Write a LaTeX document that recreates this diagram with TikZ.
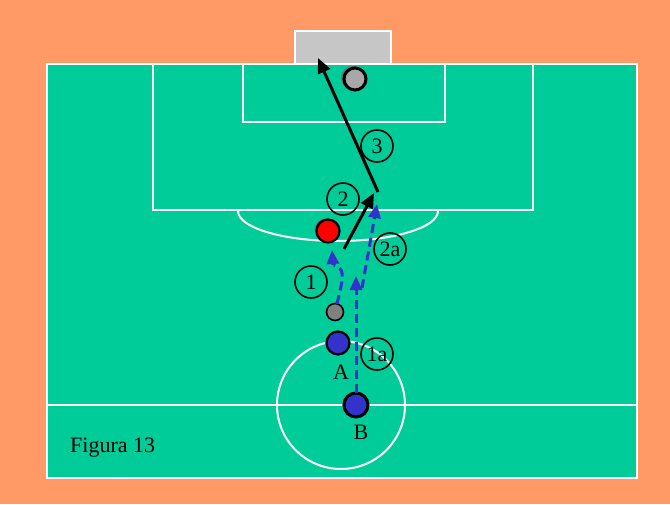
\documentclass[tikz,border=0pt]{standalone}
\usepackage{fontspec}
\setmainfont{Liberation Serif}
\usetikzlibrary{arrows.meta}
\definecolor{pitch}{HTML}{00CC99}
\definecolor{bgorange}{HTML}{FF9966}
\definecolor{goalgray}{HTML}{C6C6C6}
\definecolor{pblue}{HTML}{3333CC}
\definecolor{shadowgray}{HTML}{707070}
\begin{document}
\begin{tikzpicture}[x=1pt,y=-1pt,
  fieldline/.style={draw=white, line width=2pt},
  player/.style={circle, draw=black, line width=2.2pt, minimum size=23pt, inner sep=0pt},
  pshadow/.style={circle, fill=shadowgray, minimum size=23pt, inner sep=0pt},
  num/.style={circle, draw=black, line width=1.6pt, minimum size=32pt, inner sep=0pt, font=\fontsize{22}{22}\selectfont},
  lbl/.style={font=\fontsize{22}{22}\selectfont, inner sep=0pt},
  pass/.style={draw=black, line width=3pt, -{Triangle[length=15pt,width=13pt]}},
  run/.style={draw=pblue, line width=3pt, dash pattern=on 9pt off 5pt, -{Triangle[length=14pt,width=12pt]}}
]
\fill[bgorange] (0,0) rectangle (670,504);
\useasboundingbox (0,0) rectangle (670,504);
% goal
\draw[fill=goalgray, draw=white, line width=1.5pt] (295,31) rectangle (391,64);
% pitch
\fill[pitch] (47,64) rectangle (637,478);
\draw[fieldline] (47,64) rectangle (637,478);
\draw[fieldline] (153,64) rectangle (533,210);
\draw[fieldline] (243,64) rectangle (445,122);
\draw[fieldline] (47,405) -- (637,405);
\draw[fieldline] (341,405) circle[radius=64];
\begin{scope}
  \clip (200,211) rectangle (480,270);
  \draw[fieldline] (338,211) ellipse[x radius=100, y radius=30];
\end{scope}
% players and balls
\node[pshadow, minimum size=24pt] at (353,78) {};
\node[player, fill=goalgray!85!black, line width=3pt, minimum size=22pt] (gk) at (355,79) {};
\node[pshadow] at (326,230) {};
\node[player, fill=red] (red) at (328,231) {};
\node[player, fill=gray, line width=1.6pt, minimum size=17pt] (ball) at (335,312) {};
\node[player, fill=pblue] (A) at (338,343) {};
\node[pshadow] at (354,404) {};
\node[player, fill=pblue, line width=3pt, minimum size=24pt] (B) at (356,405) {};
\node[lbl] (lA) at (341,372) {A};
\node[lbl] (lB) at (361,432) {B};
\node[lbl, anchor=west] (fig) at (70,448) {Figura 13};
% number circles
\node[num] (n1) at (311,282) {1};
\node[num] (n1a) at (377,354) {1a};
\node[num] (n2) at (343,199) {2};
\node[num] (n2a) at (390,249) {2a};
\node[num] (n3) at (377,146) {3};
% coordinates
\coordinate (p3s) at (378,192);
\coordinate (p3e) at (318,58);
\coordinate (p2s) at (344,249);
\coordinate (p2e) at (374,193);
\coordinate (r1s) at (337,304);
\coordinate (r1e) at (332,250);
\coordinate (r1as) at (356,393);
\coordinate (r1ae) at (356,276);
\coordinate (r2as) at (362,288);
\coordinate (r2ae) at (377,204);
% runs
\draw[run] (r1as) -- (r1ae);
\draw[run] (r2as) -- (r2ae);
\draw[draw=pblue, line width=3pt, dash pattern=on 9pt off 5pt, rounded corners=3pt] (r1s) -- (342,282) -- (342,270) -- (334,265);
\draw[run, dash pattern=] (333,265) -- (r1e);
% passes
\draw[pass] (p2s) -- (p2e);
\draw[pass] (p3s) -- (p3e);
\end{tikzpicture}
\end{document}
